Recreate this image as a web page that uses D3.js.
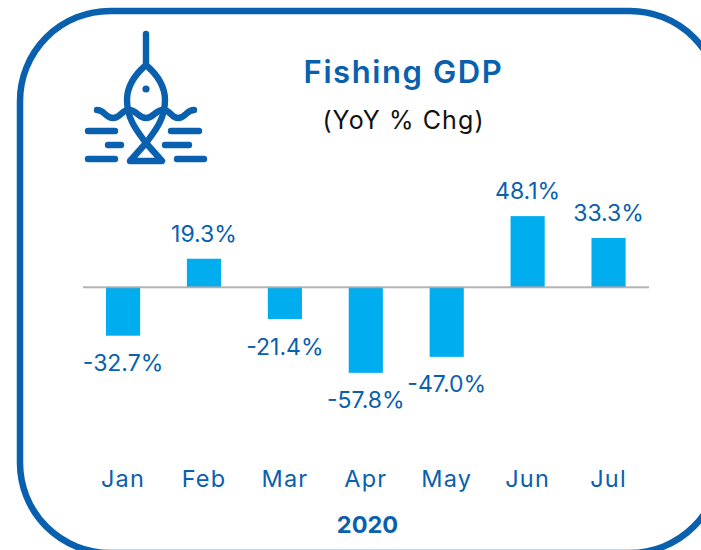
<!DOCTYPE html>
<html><head><meta charset="utf-8">
<script src="https://cdn.jsdelivr.net/npm/d3@7"></script>
<style>html,body{margin:0;padding:0;background:#fff;overflow:hidden}svg{display:block}text{font-family:Inter,"Open Sans",sans-serif}</style>
</head><body><div id="c"></div>
<script>
const months=["Jan","Feb","Mar","Apr","May","Jun","Jul"];
const values=[-32.7,19.3,-21.4,-57.8,-47.0,48.1,33.3];
const title="Fishing GDP", subtitle="(YoY % Chg)", yearLabel="2020";
const blue="#0860AE", barColor="#00AEEF";
const svg=d3.select("#c").append("svg").attr("width",701).attr("height",550);
svg.append("rect").attr("x",20).attr("y",11).attr("width",700).attr("height",542).attr("rx",90).attr("fill","#fff").attr("stroke",blue).attr("stroke-width",6.5);
const x=d3.scaleBand().domain(months).range([82.6,649]).paddingInner(0.578).paddingOuter(0.289);
const y=d3.scaleLinear().domain([0,50]).range([287.3,213.3]);
svg.selectAll("rect.bar").data(values).join("rect").attr("class","bar")
 .attr("x",(d,i)=>x(months[i])).attr("width",x.bandwidth())
 .attr("y",d=>Math.min(y(d),y(0))).attr("height",d=>Math.abs(y(d)-y(0))).attr("fill",barColor);
svg.append("line").attr("x1",83).attr("x2",649).attr("y1",y(0)).attr("y2",y(0)).attr("stroke","#a8a8a8").attr("stroke-opacity",0.85).attr("stroke-width",2);
svg.selectAll("text.val").data(values).join("text").attr("class","val")
 .attr("x",(d,i)=>x(months[i])+x.bandwidth()/2).attr("y",d=>d<0?y(d)+35.6:y(d)-16.8)
 .attr("text-anchor","middle").attr("font-size",23).attr("fill",blue).text(d=>d.toFixed(1)+"%");
const ax=d3.axisBottom(x).tickSize(0);
const g=svg.append("g").attr("transform","translate(0,487)").call(ax);
g.select(".domain").remove();
g.selectAll("text").attr("y",0).attr("dy",null).attr("font-size",23.5).attr("letter-spacing",1.2).attr("fill",blue).style("font-family","Inter");
svg.append("text").attr("x",367.5).attr("y",533).attr("text-anchor","middle").attr("font-size",23.5).attr("font-weight",700).attr("fill",blue).text(yearLabel);
svg.append("text").attr("x",403.5).attr("y",83).attr("text-anchor","middle").attr("font-size",31).attr("letter-spacing",1.6).attr("font-weight",600).attr("fill",blue).text(title);
svg.append("text").attr("x",403.5).attr("y",129).attr("text-anchor","middle").attr("font-size",25).attr("letter-spacing",1.1).attr("font-weight",400).attr("fill","#111").text(subtitle);
// icon
const ic=svg.append("g").attr("transform","translate(70,20)").attr("fill","none").attr("stroke",blue).attr("stroke-width",6.4).attr("stroke-linecap","round").attr("stroke-linejoin","round");
ic.append("path").attr("d","M76 14V44");
ic.append("path").attr("d","M76 45C62 57 57 68 57 80C57 100 68 112 76 123L92 141H60L76 123C84 112 95 100 95 80C95 68 90 57 76 45Z");
ic.append("circle").attr("cx",76).attr("cy",69).attr("r",3.6).attr("fill",blue).attr("stroke","none");
ic.append("path").attr("d","M27 90C35 90 35 98 43 98C51 98 51 90 59 90C67 90 68 98 76 98C84 98 85 90 93 90C101 90 101 98 108 98C116 98 116 90 124 90");
[[18,45,111],[38,51,125],[18,45,139],[101,129,111],[95,119,125],[107,134,139]].forEach(s=>ic.append("line").attr("x1",s[0]).attr("x2",s[1]).attr("y1",s[2]).attr("y2",s[2]));
</script></body></html>
